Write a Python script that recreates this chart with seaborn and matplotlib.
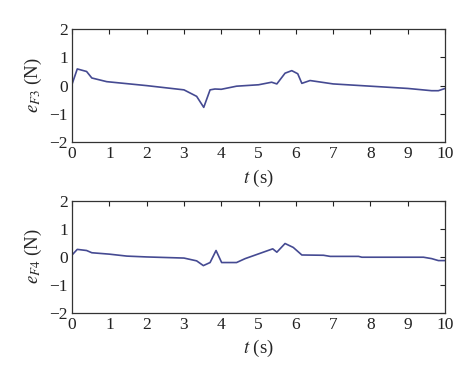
import matplotlib
matplotlib.use("Agg")
import matplotlib.pyplot as plt
import pandas as pd
import seaborn as sns

# Data
t_f3 = [0.0, 0.0, 0.14, 0.39, 0.53, 0.93, 2.0, 3.0, 3.34, 3.53, 3.70, 3.83, 4.0, 4.41,
        5.0, 5.35, 5.49, 5.71, 5.89, 6.05, 6.16, 6.38, 7.0, 8.0, 9.0, 9.64, 9.82, 10.0]
e_f3 = [-2.0, 0.05, 0.59, 0.50, 0.27, 0.14, 0.0, -0.15, -0.38, -0.77, -0.15, -0.12, -0.13, -0.02,
        0.03, 0.12, 0.06, 0.44, 0.53, 0.42, 0.08, 0.18, 0.06, -0.02, -0.10, -0.18, -0.18, -0.10]

t_f4 = [0.0, 0.0, 0.14, 0.39, 0.53, 1.0, 1.47, 2.0, 3.0, 3.34, 3.52, 3.70, 3.86, 4.01, 4.41,
        4.64, 5.0, 5.38, 5.49, 5.71, 5.93, 6.16, 6.74, 6.92, 7.68, 7.77, 9.42, 9.64, 9.82, 10.0]
e_f4 = [-2.0, 0.06, 0.26, 0.22, 0.14, 0.09, 0.02, -0.01, -0.05, -0.15, -0.32, -0.21, 0.22, -0.21, -0.21,
        -0.07, 0.10, 0.28, 0.16, 0.47, 0.33, 0.06, 0.05, 0.01, 0.01, -0.02, -0.02, -0.07, -0.14, -0.14]

xticks = list(range(0, 11))
yticks = [-2, -1, 0, 1, 2]

sns.set_style("white")
plt.rcParams['font.family'] = ['Liberation Serif', 'DejaVu Serif']
plt.rcParams['mathtext.fontset'] = 'stix'

fig = plt.figure(figsize=(4.74, 3.78), dpi=100)
ax1 = fig.add_axes([0.152, 0.624, 0.787, 0.299])
ax2 = fig.add_axes([0.152, 0.173, 0.787, 0.296])

panels = [(ax1, t_f3, e_f3, r'$e_{F3}$ (N)'), (ax2, t_f4, e_f4, r'$e_{F4}$ (N)')]
for ax, t, e, lab in panels:
    df = pd.DataFrame({'t': t, 'e': e})
    sns.lineplot(data=df, x='t', y='e', ax=ax, color='#454a92', linewidth=1.2,
                 sort=False, estimator=None)
    ax.set_xlim(0, 10)
    ax.set_ylim(-2, 2)
    ax.set_xticks(xticks)
    ax.set_yticks(yticks)
    ax.set_yticklabels(['\u22122', '\u22121', '0', '1', '2'])
    ax.tick_params(direction='in', top=True, right=True, length=3.5, width=0.8,
                   labelsize=12.5, colors='#222222', pad=3)
    for s in ax.spines.values():
        s.set_linewidth(0.9)
        s.set_color('#333333')
    ax.set_xlabel(r'$t$ (s)', fontsize=13.5, labelpad=4)
    ax.set_ylabel(lab, fontsize=13.5, labelpad=4)

fig.savefig('out.png', dpi=100)
